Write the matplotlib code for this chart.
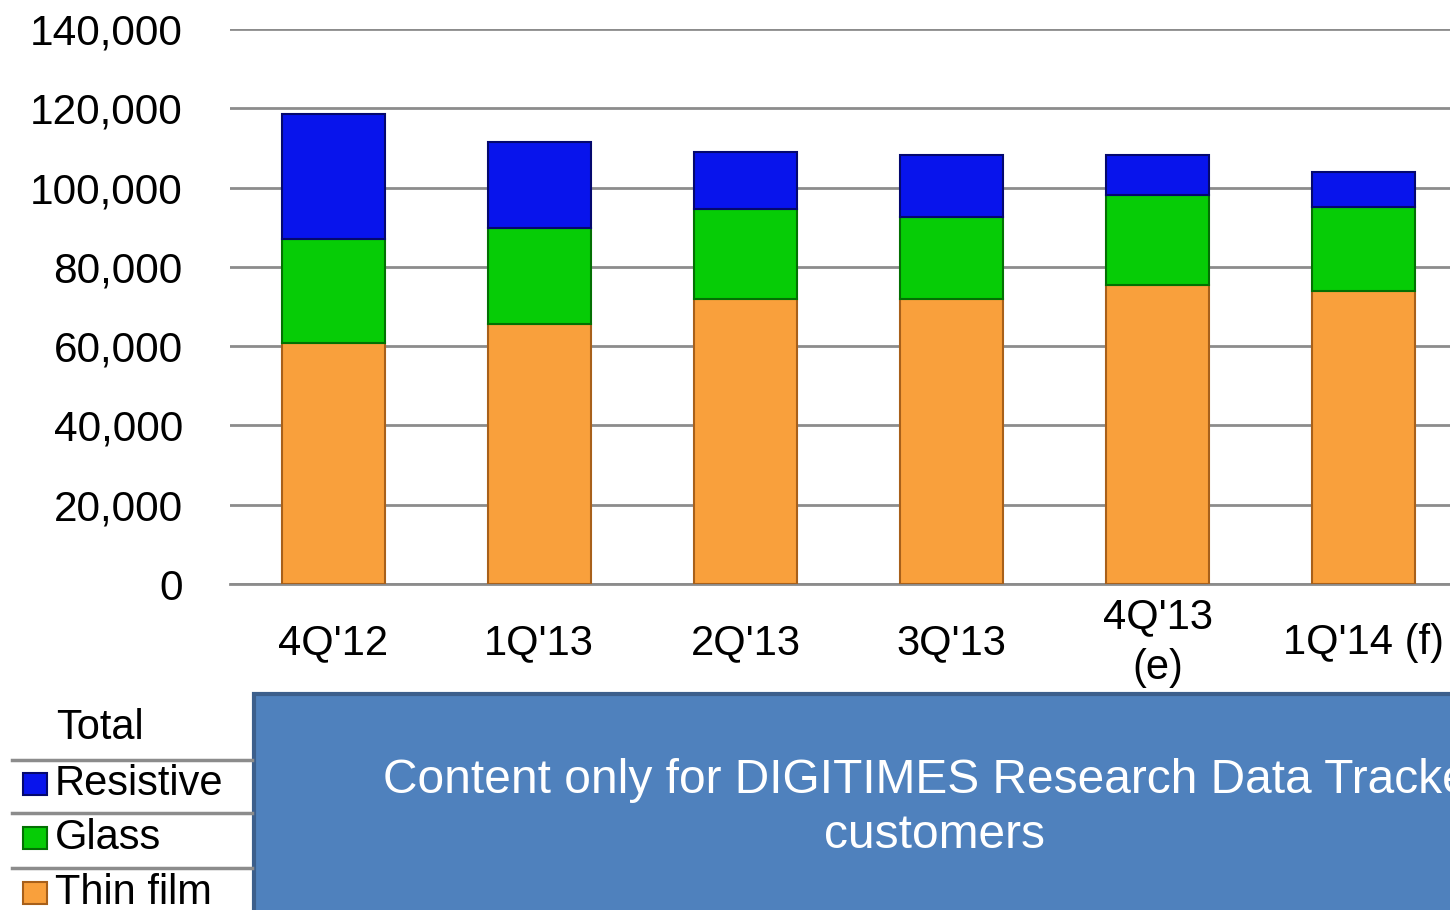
import matplotlib
matplotlib.use("Agg")
import matplotlib.pyplot as plt
from matplotlib.patches import Rectangle
from matplotlib.lines import Line2D

plt.rcParams['font.family'] = ['Liberation Sans', 'DejaVu Sans']

categories = ["4Q'12", "1Q'13", "2Q'13", "3Q'13", "4Q'13\n(e)", "1Q'14 (f)"]
thin_film = [60700, 65600, 71900, 71900, 75300, 74000]
glass = [26300, 24300, 22700, 20600, 22800, 21200]
resistive = [31600, 21700, 14300, 15700, 10100, 8800]
series_names = ["Resistive", "Glass", "Thin film"]
yticks = [0, 20000, 40000, 60000, 80000, 100000, 120000, 140000]

W, H = 1450, 910
fig = plt.figure(figsize=(W / 100, H / 100), dpi=100)
ax = fig.add_axes([230 / W, 1 - 584 / H, (1467 - 230) / W, (584 - 29) / H])

c_orange = "#F9A03C"
c_green = "#06CC06"
c_blue = "#0814EC"
e_orange = "#A8601A"
e_green = "#037003"
e_blue = "#04086E"

x = list(range(len(categories)))
bw = 0.5
ax.bar(x, thin_film, bw, color=c_orange, edgecolor=e_orange, linewidth=1.5, zorder=3)
bottom2 = thin_film
ax.bar(x, glass, bw, bottom=bottom2, color=c_green, edgecolor=e_green, linewidth=1.5, zorder=3)
bottom3 = [a + b for a, b in zip(thin_film, glass)]
ax.bar(x, resistive, bw, bottom=bottom3, color=c_blue, edgecolor=e_blue, linewidth=1.5, zorder=3)

ax.set_xlim(-0.5, 5.5)
ax.set_ylim(0, 140000)
ax.set_yticks(yticks)
ax.set_yticklabels([f"{v:,}" for v in yticks], fontsize=30.5)
ax.tick_params(axis='y', length=0, pad=34)
ax.set_xticks([])
ax.grid(axis='y', color='#8C8C8C', linewidth=2, zorder=0)
for s in ['top', 'right', 'left']:
    ax.spines[s].set_visible(False)
ax.spines['bottom'].set_color('#8C8C8C')
ax.spines['bottom'].set_linewidth(2)

label_y = -(643 - 584) / 3.964 * 1000
for xi, lab in zip(x, categories):
    ax.text(xi, label_y, lab, ha='center', va='center', fontsize=30,
            linespacing=1.35, clip_on=False)

# Legend table at bottom left
def fy(py):
    return 1 - py / H

fig.text(100 / W, fy(728), "Total", ha='center', va='center', fontsize=30)
for py in [760, 813, 868]:
    fig.add_artist(Line2D([12 / W, 252 / W], [fy(py), fy(py)], color='#8C8C8C', linewidth=2.5))
legend_colors = [c_blue, c_green, c_orange]
legend_edges = [e_blue, e_green, e_orange]
legend_y = [784, 838, 893]
for name, col, ec, py in zip(series_names, legend_colors, legend_edges, legend_y):
    fig.add_artist(Rectangle((23 / W, fy(py + 11)), 24 / W, 22 / H, transform=fig.transFigure,
                             facecolor=col, edgecolor=ec, linewidth=1.5))
    fig.text(55 / W, fy(py), name, ha='left', va='center', fontsize=30)

# Overlay box
fig.add_artist(Rectangle((254 / W, -0.05), 1.2, fy(694) + 0.05, transform=fig.transFigure,
                         facecolor='#4F81BD', edgecolor='#3C5F8C', linewidth=3, clip_on=False))
fig.text(934 / W, fy(808), "Content only for DIGITIMES Research Data Tracker\ncustomers",
         ha='center', va='center', fontsize=34.5, color='white', linespacing=1.26)

fig.savefig("out.png", dpi=100)
